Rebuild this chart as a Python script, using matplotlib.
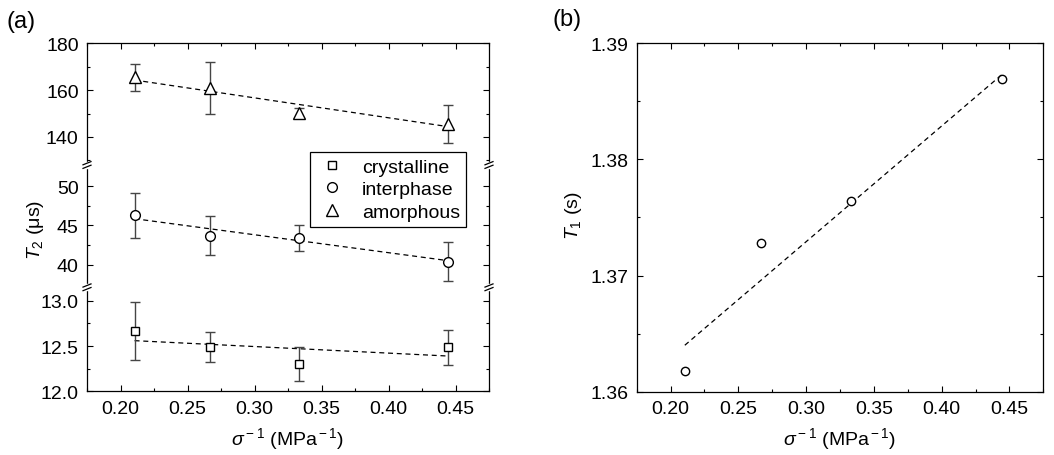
import numpy as np
import matplotlib
matplotlib.use('Agg')
import matplotlib.pyplot as plt
from matplotlib.lines import Line2D
from matplotlib.patches import Rectangle
from matplotlib.ticker import MultipleLocator

plt.rcParams['font.family'] = ['Liberation Sans', 'DejaVu Sans']
plt.rcParams['mathtext.fontset'] = 'custom'
plt.rcParams['mathtext.rm'] = 'Liberation Sans'
plt.rcParams['mathtext.it'] = 'Liberation Sans:italic'
plt.rcParams['font.size'] = 14

# inverse stress (MPa^-1)
inv_stress = [0.2105, 0.2667, 0.3333, 0.4444]

# T2 per phase (us) with error bars
t2_cryst = [12.67, 12.49, 12.30, 12.485]
t2_cryst_err = [0.32, 0.17, 0.19, 0.19]
t2_inter = [46.3, 43.7, 43.4, 40.35]
t2_inter_err = [2.85, 2.5, 1.7, 2.5]
t2_amorph = [165.5, 161.0, 150.2, 145.6]
t2_amorph_err = [5.7, 11.2, 2.3, 8.0]

# linear fits, end points at first and last stress
fit_x = [0.2105, 0.4444]
fit_cryst = [12.56, 12.39]
fit_inter = [45.85, 40.5]
fit_amorph = [164.3, 144.4]

# T1 (s)
t1 = [1.3618, 1.3728, 1.3764, 1.3869]
fit_t1 = [1.3640, 1.3873]

W, H = 1054, 456
fig = plt.figure(figsize=(W / 100, H / 100), dpi=100)


def px(x, y):
    return x / W, 1 - y / H


def style_axis(ax, top=False, bottom=False):
    ax.set_xlim(0.175, 0.475)
    ax.xaxis.set_major_locator(MultipleLocator(0.05))
    ax.xaxis.set_minor_locator(MultipleLocator(0.025))
    ax.tick_params(which='both', direction='in', left=True, right=True,
                   top=top, bottom=bottom, labelbottom=bottom, width=0.8)
    ax.tick_params(which='major', length=4.5, pad=6)
    ax.tick_params(which='minor', length=2.5)
    for s in ax.spines.values():
        s.set_linewidth(0.9)
    ax.spines['top'].set_visible(top)
    ax.spines['bottom'].set_visible(bottom)


# three stacked segments of the broken T2 axis
left, right = 87, 489
seg_px = [(44.3, 166), (166, 288.3), (288.3, 392.3)]
axes = []
for y0, y1 in seg_px:
    x0f, y1f = px(left, y1)
    axes.append(fig.add_axes([x0f, y1f, (right - left) / W, (y1 - y0) / H]))
ax_top, ax_mid, ax_bot = axes

style_axis(ax_top, top=True)
style_axis(ax_mid)
style_axis(ax_bot, bottom=True)

ax_top.set_ylim(128, 180)
ax_top.yaxis.set_major_locator(MultipleLocator(20))
ax_top.yaxis.set_minor_locator(MultipleLocator(10))
ax_mid.set_ylim(37.1, 52.7)
ax_mid.yaxis.set_major_locator(MultipleLocator(5))
ax_mid.yaxis.set_minor_locator(MultipleLocator(2.5))
ax_bot.set_ylim(12.0, 13.15)
ax_bot.yaxis.set_major_locator(MultipleLocator(0.5))
ax_bot.yaxis.set_minor_locator(MultipleLocator(0.25))
ax_bot.yaxis.set_major_formatter(plt.FormatStrFormatter('%.1f'))

err_kw = dict(ecolor='#454545', elinewidth=1.0, capsize=3.5, capthick=1.0,
              linestyle='none', mfc='white', mec='black', mew=1.0, zorder=3)
series = [
    (ax_bot, t2_cryst, t2_cryst_err, fit_cryst, 's', 5.5),
    (ax_mid, t2_inter, t2_inter_err, fit_inter, 'o', 7),
    (ax_top, t2_amorph, t2_amorph_err, fit_amorph, '^', 8),
]
for ax, y, e, f, m, ms in series:
    ax.plot(fit_x, f, ls=(0, (4, 3)), color='black', lw=0.9, zorder=2)
    ax.errorbar(inv_stress, y, yerr=e, marker=m, ms=ms, **err_kw)

# break marks on both spines
for yb in (166, 288.3):
    for xb in (left, right):
        fig.add_artist(Rectangle(px(xb - 3, yb + 3), 6 / W, 6 / H,
                                 transform=fig.transFigure, color='white',
                                 zorder=10))
        for dy in (-1.8, 1.8):
            xa, ya = px(xb - 4, yb + dy + 1.6)
            xc, yc = px(xb + 4, yb + dy - 1.6)
            fig.add_artist(Line2D([xa, xc], [ya, yc], color='black', lw=0.9,
                                  transform=fig.transFigure, zorder=11))

ax_bot.set_xlabel(r'$\sigma^{\rm -1}$ (MPa$^{\rm -1}$)', labelpad=6)
fig.text(*px(35, 230), r'$T_{\rm 2}$ (μs)', rotation=90, ha='center', va='center')

handles = [Line2D([], [], marker=m, ms=ms, ls='none', mfc='white', mec='black', mew=1.0)
           for m, ms in (('s', 5.5), ('o', 7), ('^', 8))]
leg = fig.legend(handles, ['crystalline', 'interphase', 'amorphous'],
                 loc='upper right', bbox_to_anchor=px(466, 153.3),
                 fancybox=False, edgecolor='black', framealpha=1,
                 handlelength=1.7, handletextpad=0.7, borderpad=0.3,
                 labelspacing=0.25, borderaxespad=0)
leg.get_frame().set_linewidth(0.9)

# right panel: T1
axr = fig.add_axes([*px(636.7, 392.7), (1043.3 - 636.7) / W, (392.7 - 44.3) / H])
style_axis(axr, top=True, bottom=True)
axr.set_ylim(1.36, 1.39)
axr.yaxis.set_major_locator(MultipleLocator(0.01))
axr.yaxis.set_minor_locator(MultipleLocator(0.005))
axr.yaxis.set_major_formatter(plt.FormatStrFormatter('%.2f'))
axr.plot(fit_x, fit_t1, ls=(0, (4, 3)), color='black', lw=0.9, zorder=2)
axr.plot(inv_stress, t1, 'o', ms=6, mfc='white', mec='black', mew=1.0, zorder=3)
axr.set_xlabel(r'$\sigma^{\rm -1}$ (MPa$^{\rm -1}$)', labelpad=6)
fig.text(*px(574, 216), r'$T_{\rm 1}$ (s)', rotation=90, ha='center', va='center')

fig.text(*px(6, 22), '(a)', fontsize=17, va='center', ha='left')
fig.text(*px(552, 20), '(b)', fontsize=17, va='center', ha='left')

fig.savefig('out.png', dpi=100)
